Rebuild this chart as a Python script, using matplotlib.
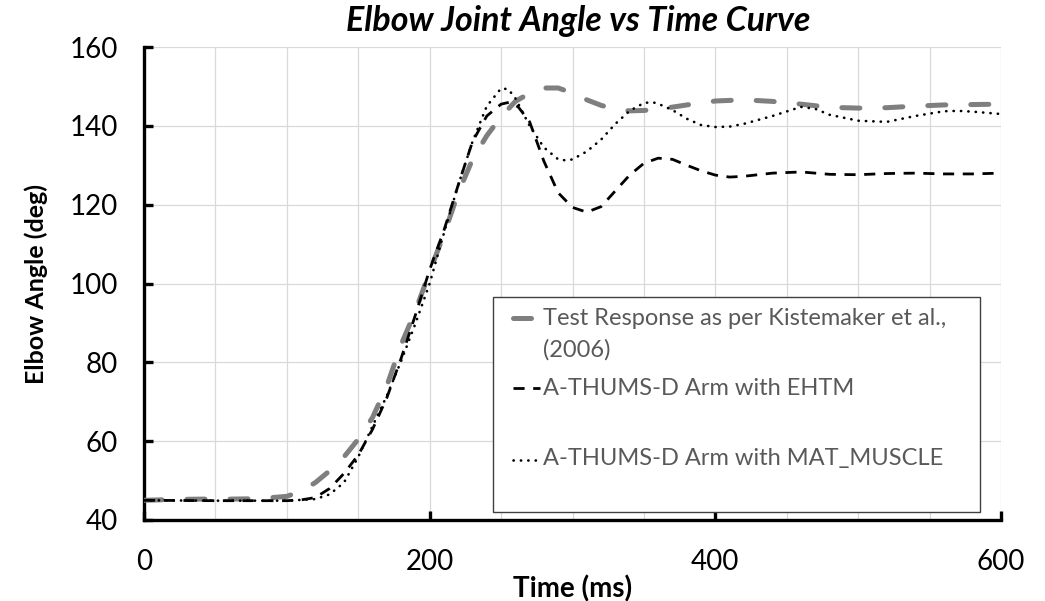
import matplotlib
matplotlib.use("Agg")
import matplotlib.pyplot as plt
from matplotlib.ticker import MultipleLocator
from matplotlib.patches import Rectangle
from matplotlib.lines import Line2D

# ---- data ----
t_test = [0, 20, 40, 60, 80, 100, 110, 120, 130, 140, 150, 160, 170, 180, 190, 200,
          210, 220, 230, 240, 250, 260, 270, 280, 290, 300, 310, 320, 330, 340, 350,
          360, 380, 400, 420, 440, 460, 480, 500, 520, 540, 560, 580, 600]
y_test = [45.0, 45.2, 45.3, 45.3, 45.4, 46.0, 47.3, 49.5, 52.5, 56.0, 60.5, 66.0, 74.0,
          84.5, 93.0, 103.0, 112.5, 123.0, 131.5, 137.5, 142.3, 146.2, 148.3, 149.6,
          149.6, 148.3, 146.6, 145.2, 144.2, 143.8, 143.9, 144.2, 145.3, 146.3, 146.6,
          146.2, 145.5, 144.7, 144.5, 144.6, 145.0, 145.3, 145.4, 145.5]

t_ehtm = [0, 50, 100, 110, 120, 130, 140, 150, 160, 170, 180, 190, 200, 210, 220, 230,
          240, 250, 256, 262, 270, 280, 290, 300, 310, 320, 330, 340, 350, 360, 370,
          380, 390, 400, 410, 420, 440, 460, 480, 500, 520, 540, 560, 580, 600]
y_ehtm = [45.0, 44.9, 44.9, 45.1, 45.7, 48.0, 51.8, 56.5, 63.0, 71.0, 81.0, 92.0, 103.5,
          113.5, 125.0, 136.0, 142.5, 145.5, 146.0, 144.8, 141.0, 131.0, 123.0, 119.3,
          118.1, 119.5, 123.5, 127.5, 130.5, 131.8, 131.5, 130.0, 128.6, 127.5, 127.0,
          127.2, 128.0, 128.3, 127.7, 127.6, 127.9, 128.0, 127.8, 127.8, 128.0]

t_mat = [0, 50, 100, 120, 130, 140, 150, 160, 170, 180, 190, 200, 210, 220, 230, 240,
         250, 255, 260, 270, 280, 290, 296, 300, 310, 320, 330, 340, 350, 356, 360,
         370, 380, 390, 400, 410, 420, 440, 460, 470, 480, 500, 520, 540, 560, 570,
         580, 600]
y_mat = [45.0, 44.9, 44.9, 45.3, 46.5, 49.5, 56.0, 63.8, 71.5, 80.3, 89.8, 100.0, 112.8,
         125.0, 136.0, 145.0, 149.5, 149.3, 147.0, 140.0, 134.5, 131.5, 131.2, 131.5,
         133.5, 136.5, 140.5, 143.8, 145.8, 146.0, 145.6, 144.0, 141.8, 140.2, 139.7,
         139.8, 140.5, 142.5, 144.8, 144.3, 142.8, 141.3, 141.0, 142.5, 143.7, 143.8,
         143.6, 143.0]

labels = ["Test Response as per Kistemaker et al.,\n(2006)",
          "A-THUMS-D Arm with EHTM",
          "A-THUMS-D Arm with MAT_MUSCLE"]
title = "Elbow Joint Angle vs Time Curve"
xlabel = "Time (ms)"
ylabel = "Elbow Angle (deg)"

FONT = "Lato"
plt.rcParams["font.family"] = [FONT, "DejaVu Sans"]

fig = plt.figure(figsize=(10.45, 6.01), dpi=100)
ax = fig.add_axes([144 / 1045, 1 - 520 / 601, 857 / 1045, 473 / 601])

gray = "#7f7f7f"
st_test = dict(color=gray, lw=3.6, dashes=(3.6, 5.0), dash_capstyle="round")
st_ehtm = dict(color="black", lw=2.0, dashes=(4.0, 3.1), dash_capstyle="butt")
st_mat = dict(color="black", lw=1.9, dashes=(0.1, 2.7), dash_capstyle="round")

ax.plot(t_test, y_test, **st_test, zorder=3)
ax.plot(t_ehtm, y_ehtm, **st_ehtm, zorder=4)
ax.plot(t_mat, y_mat, **st_mat, zorder=5)

ax.set_xlim(0, 600)
ax.set_ylim(40, 160)
ax.xaxis.set_major_locator(MultipleLocator(200))
ax.xaxis.set_minor_locator(MultipleLocator(50))
ax.yaxis.set_major_locator(MultipleLocator(20))

ax.grid(True, which="both", axis="x", color="#d9d9d9", lw=0.9, zorder=0)
ax.grid(True, which="major", axis="y", color="#d9d9d9", lw=0.9, zorder=0)
ax.set_axisbelow(True)

for s in ["top", "right"]:
    ax.spines[s].set_visible(False)
for s in ["left", "bottom"]:
    ax.spines[s].set_linewidth(2.4)
    ax.spines[s].set_color("black")

ax.tick_params(axis="y", which="major", direction="in", length=6.5, width=2.4,
               pad=19, labelsize=20, colors="black")
ax.tick_params(axis="x", which="major", direction="in", length=6.5, width=2.4,
               pad=21, labelsize=20, colors="black")
ax.tick_params(axis="x", which="minor", length=0)

ax.set_xlabel(xlabel, fontsize=20, fontweight="bold", labelpad=0)
ax.set_ylabel(ylabel, fontsize=18, fontweight="bold", labelpad=15)
ax.set_title(title, fontsize=24.5, fontweight="bold", fontstyle="italic", pad=11.5,
             x=0.507)

# ---- legend box (Excel-style) ----
ax.add_patch(Rectangle((0.4072, 0.0169), 0.5683, 0.4546, transform=ax.transAxes,
                       facecolor="white", edgecolor="#404040", lw=1.0, zorder=10,
                       clip_on=False))
hx0, hx1, tx = 0.4306, 0.4615, 0.4656
txtcol = "#595959"
entries = [(st_test, 0.4271, [0.4123, 0.3446]),
           (st_ehtm, 0.2791, [0.2643]),
           (st_mat, 0.1268, [0.1163])]
for (st, hy, bys), lab in zip(entries, labels):
    ax.add_line(Line2D([hx0, hx1], [hy, hy], transform=ax.transAxes, zorder=11,
                       clip_on=False, **st))
    for by, line in zip(bys, lab.split("\n")):
        ax.text(tx, by, line, transform=ax.transAxes, fontsize=17, color=txtcol,
                va="baseline", ha="left", zorder=12)

fig.savefig("out.png", dpi=100)
